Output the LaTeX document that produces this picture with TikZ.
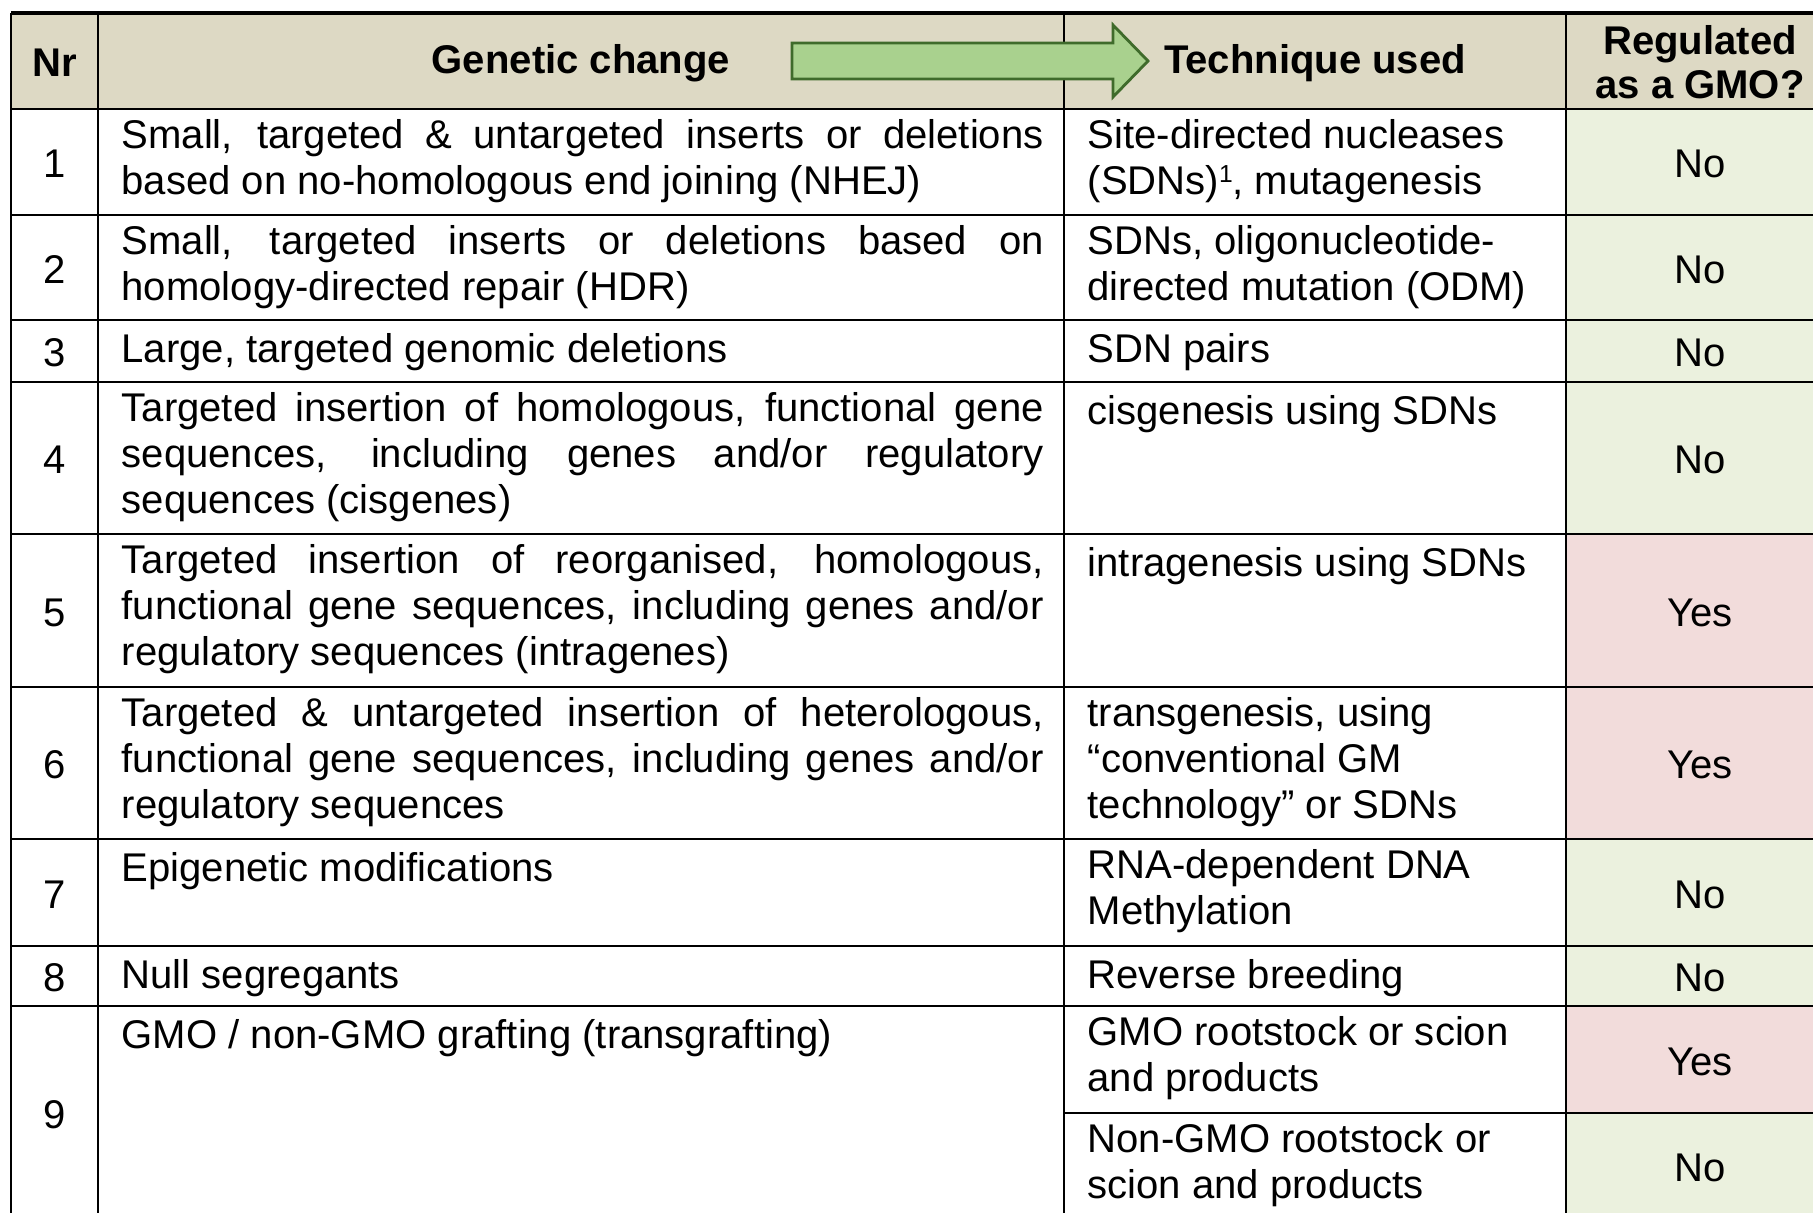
\documentclass[tikz,border=0pt]{standalone}
\usepackage{fontspec}
\setmainfont{Liberation Sans}
\usepackage{tikz}

\definecolor{headBeige}{HTML}{DDD9C4}
\definecolor{noGreen}{HTML}{EBF1DE}
\definecolor{yesRed}{HTML}{F2DCDB}
\definecolor{arrowFill}{HTML}{A9D18E}
\definecolor{arrowLine}{HTML}{3F6B2B}

% one justified line of the "Genetic change" column
\newcommand{\fullline}[1]{\makebox[9.22cm][s]{#1}}
\newcommand{\smallsup}[1]{\raisebox{0.55ex}{\fontsize{7}{8}\selectfont #1}}

\begin{document}
\begin{tikzpicture}[font=\fontsize{11.4}{13.1}\selectfont]

\tikzstyle{cell}=[anchor=north west, inner sep=0pt, align=left,
    execute at begin node=\strut]
\tikzstyle{nr}=[inner sep=0pt]
\tikzstyle{answer}=[inner sep=0pt]
\tikzstyle{head}=[inner sep=0pt, align=center, font=\fontsize{11.4}{12.6}\selectfont\bfseries]
\tikzstyle{grid}=[line width=0.75pt]

\useasboundingbox (0,0) rectangle (18.13,-12.12);
\clip (0,0) rectangle (18.13,-12.12);

% fills
\fill[headBeige] (0.11,-0.13) rectangle (18.34,-1.09);
\fill[noGreen] (15.66,-1.09) rectangle (18.34,-5.34);
\fill[yesRed] (15.66,-5.34) rectangle (18.34,-8.39);
\fill[noGreen] (15.66,-8.39) rectangle (18.34,-10.06);
\fill[yesRed] (15.66,-10.06) rectangle (18.34,-11.13);
\fill[noGreen] (15.66,-11.13) rectangle (18.34,-12.19);

% grid
\draw[grid] (0.11,-0.13) -- (0.11,-12.19);
\draw[grid] (0.98,-0.13) -- (0.98,-12.19);
\draw[grid] (10.64,-0.13) -- (10.64,-12.19);
\draw[grid] (15.66,-0.13) -- (15.66,-12.19);
\draw[grid] (18.34,-0.13) -- (18.34,-12.19);

\draw[grid, line width=1pt] (0.11,-0.13) -- (18.34,-0.13);
\draw[grid] (0.11,-1.09) -- (18.34,-1.09);
\draw[grid] (0.11,-2.15) -- (18.34,-2.15);
\draw[grid] (0.11,-3.20) -- (18.34,-3.20);
\draw[grid] (0.11,-3.82) -- (18.34,-3.82);
\draw[grid] (0.11,-5.34) -- (18.34,-5.34);
\draw[grid] (0.11,-6.87) -- (18.34,-6.87);
\draw[grid] (0.11,-8.39) -- (18.34,-8.39);
\draw[grid] (0.11,-9.46) -- (18.34,-9.46);
\draw[grid] (0.11,-10.06) -- (18.34,-10.06);
\draw[grid] (10.64,-11.13) -- (18.34,-11.13);
\draw[grid] (0.11,-12.19) -- (18.34,-12.19);

% header
\node[head] (headNr) at (0.545,-0.63) {Nr};
\node[head] (headChange) at (5.81,-0.63) {Genetic change};
\node[head] (headTechnique) at (13.15,-0.63) {Technique used};
\node[head] (headRegulated) at (17.00,-0.62) {Regulated\\as a GMO?};

% arrow
\draw[line width=0.8pt, draw=arrowLine, fill=arrowFill, line join=miter]
  (7.92,-0.43) -- (11.13,-0.43) -- (11.13,-0.25) -- (11.48,-0.61)
  -- (11.13,-0.97) -- (11.13,-0.79) -- (7.92,-0.79) -- cycle;

% numbers
\node[nr] (nr1) at (0.545,-1.64) {1};
\node[nr] (nr2) at (0.545,-2.695) {2};
\node[nr] (nr3) at (0.545,-3.53) {3};
\node[nr] (nr4) at (0.545,-4.60) {4};
\node[nr] (nr5) at (0.545,-6.125) {5};
\node[nr] (nr6) at (0.545,-7.65) {6};
\node[nr] (nr7) at (0.545,-8.945) {7};
\node[nr] (nr8) at (0.545,-9.78) {8};
\node[nr] (nr9) at (0.545,-11.145) {9};

% genetic change
\node[cell] (change1) at (1.21,-1.185)
  {\fullline{Small, targeted \& untargeted inserts or deletions}\\
   based on no-homologous end joining (NHEJ)};
\node[cell] (change2) at (1.21,-2.245)
  {\fullline{Small, targeted inserts or deletions based on}\\
   homology-directed repair (HDR)};
\node[cell] (change3) at (1.21,-3.295) {Large, targeted genomic deletions};
\node[cell] (change4) at (1.21,-3.915)
  {\fullline{Targeted insertion of homologous, functional gene}\\
   \fullline{sequences, including genes and/or regulatory}\\
   sequences (cisgenes)};
\node[cell] (change5) at (1.21,-5.435)
  {\fullline{Targeted insertion of reorganised, homologous,}\\
   \fullline{functional gene sequences, including genes and/or}\\
   regulatory sequences (intragenes)};
\node[cell] (change6) at (1.21,-6.965)
  {\fullline{Targeted \& untargeted insertion of heterologous,}\\
   \fullline{functional gene sequences, including genes and/or}\\
   regulatory sequences};
\node[cell] (change7) at (1.21,-8.485) {Epigenetic modifications};
\node[cell] (change8) at (1.21,-9.555) {Null segregants};
\node[cell] (change9) at (1.21,-10.155) {GMO / non-GMO grafting (transgrafting)};

% technique used
\node[cell] (tech1) at (10.87,-1.185)
  {Site-directed nucleases\\(SDNs)\smallsup{1}, mutagenesis};
\node[cell] (tech2) at (10.87,-2.245)
  {SDNs, oligonucleotide-\\directed mutation (ODM)};
\node[cell] (tech3) at (10.87,-3.295) {SDN pairs};
\node[cell] (tech4) at (10.87,-3.915) {cisgenesis using SDNs};
\node[cell] (tech5) at (10.87,-5.435) {intragenesis using SDNs};
\node[cell] (tech6) at (10.87,-6.965)
  {transgenesis, using\\“conventional GM\\technology” or SDNs};
\node[cell] (tech7) at (10.87,-8.485) {RNA-dependent DNA\\Methylation};
\node[cell] (tech8) at (10.87,-9.555) {Reverse breeding};
\node[cell] (tech9a) at (10.87,-10.155) {GMO rootstock or scion\\and products};
\node[cell] (tech9b) at (10.87,-11.225) {Non-GMO rootstock or\\scion and products};

% regulated as a GMO?
\node[answer] (reg1) at (17.00,-1.64) {No};
\node[answer] (reg2) at (17.00,-2.695) {No};
\node[answer] (reg3) at (17.00,-3.53) {No};
\node[answer] (reg4) at (17.00,-4.60) {No};
\node[answer] (reg5) at (17.00,-6.125) {Yes};
\node[answer] (reg6) at (17.00,-7.65) {Yes};
\node[answer] (reg7) at (17.00,-8.945) {No};
\node[answer] (reg8) at (17.00,-9.78) {No};
\node[answer] (reg9a) at (17.00,-10.615) {Yes};
\node[answer] (reg9b) at (17.00,-11.68) {No};

\end{tikzpicture}
\end{document}
